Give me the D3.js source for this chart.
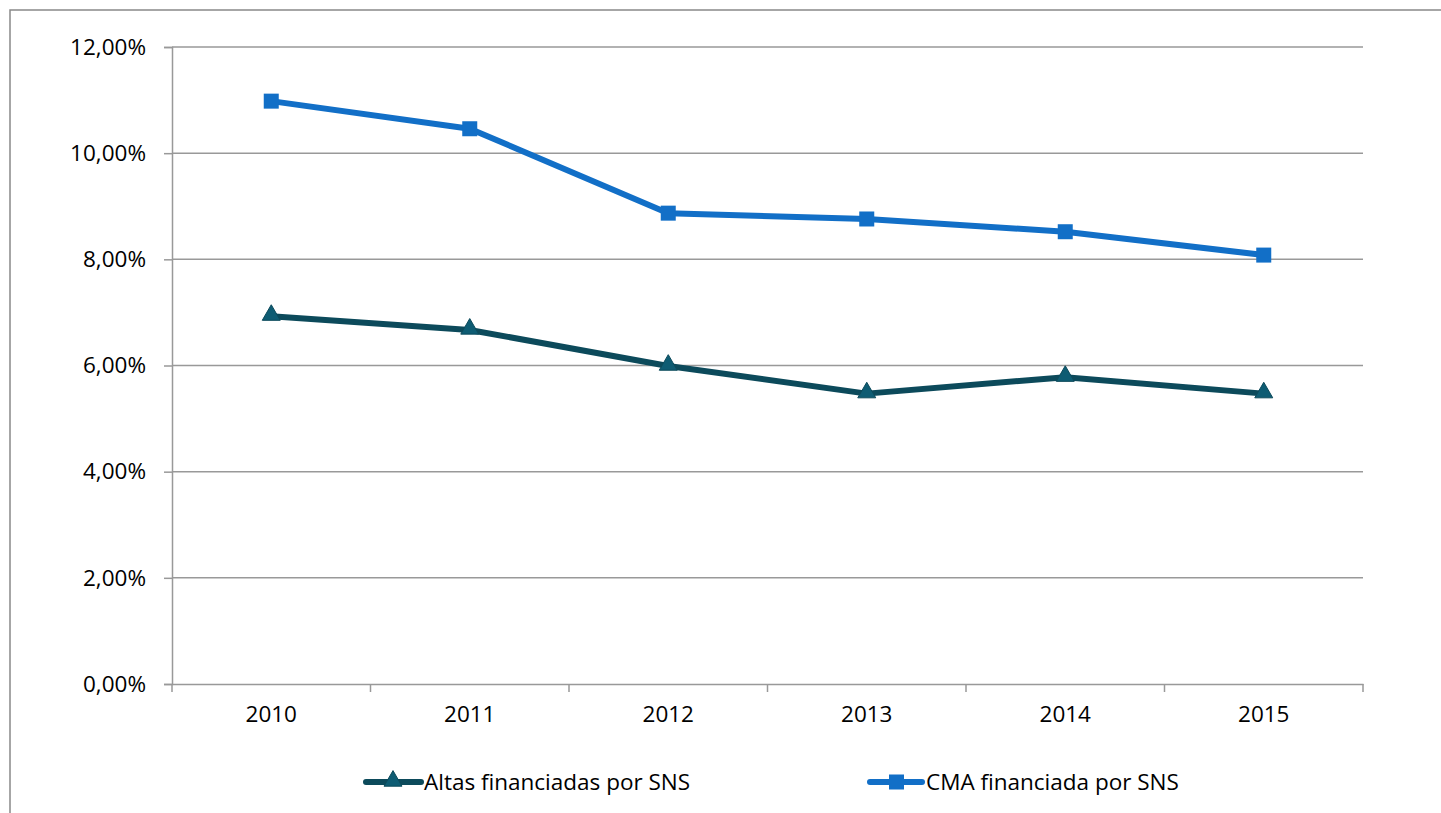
<!DOCTYPE html>
<html><head><meta charset="utf-8">
<script src="https://cdn.jsdelivr.net/npm/d3@7"></script>
<style>body{margin:0;background:#fff}svg{display:block}text{font-family:"Open Sans","Noto Sans",sans-serif;fill:#000}</style>
</head><body>
<svg id="c" width="1441" height="813"></svg>
<script>
const categories = ["2010","2011","2012","2013","2014","2015"];
const altas = [6.93, 6.67, 5.99, 5.47, 5.78, 5.47];
const cma = [10.98, 10.46, 8.87, 8.76, 8.52, 8.08];
const yTicks = [0, 2, 4, 6, 8, 10, 12];
const seriesNames = ["Altas financiadas por SNS", "CMA financiada por SNS"];

const FS = 22.5;
const svg = d3.select("#c");
const L = 172, R = 1363, T = 47, B = 684;
svg.append("rect").attr("x",10).attr("y",10).attr("width",1445).attr("height",820)
  .attr("fill","none").attr("stroke","#898989").attr("stroke-width",1.5);

const x = d3.scaleBand().domain(categories).range([L,R]);
const y = d3.scaleLinear().domain([0,12]).range([B,T]);
const fmt = v => v.toFixed(2).replace(".", ",") + "%";

svg.append("g").selectAll("line").data(yTicks.filter(d=>d>0)).join("line")
  .attr("x1",L).attr("x2",R).attr("y1",d=>y(d)).attr("y2",d=>y(d))
  .attr("stroke","#999").attr("stroke-width",1.5);

const ya = svg.append("g").attr("transform",`translate(${L},0)`)
  .call(d3.axisLeft(y).tickValues(yTicks).tickFormat(fmt).tickSize(8).tickPadding(18));
ya.select(".domain").attr("stroke","#999").attr("stroke-width",1.5);
ya.selectAll(".tick line").attr("stroke","#999").attr("stroke-width",1.5);
ya.selectAll("text").attr("font-size",FS).attr("fill","#000");

const xa = svg.append("g").attr("transform",`translate(0,${B})`)
  .call(d3.axisBottom(x).tickSize(0).tickPadding(22));
xa.select(".domain").attr("stroke","#999").attr("stroke-width",1.5);
xa.selectAll("text").attr("font-size",FS).attr("fill","#000");
const edges = categories.map(c=>x(c)).concat([R]);
svg.append("g").selectAll("line").data(edges).join("line")
  .attr("x1",d=>d).attr("x2",d=>d).attr("y1",B).attr("y2",B+8)
  .attr("stroke","#999").attr("stroke-width",1.5);

const cx = c => x(c) + x.bandwidth()/2;
const line = d3.line().x((d,i)=>cx(categories[i])).y(d=>y(d));
const cAlt = "#0C4A5B", cAltM = "#0E5C73", cCma = "#126FC7";

svg.append("path").datum(altas).attr("d",line).attr("fill","none")
  .attr("stroke",cAlt).attr("stroke-width",6).attr("stroke-linejoin","round");
svg.append("path").datum(cma).attr("d",line).attr("fill","none")
  .attr("stroke",cCma).attr("stroke-width",6).attr("stroke-linejoin","round");

const tri = d3.symbol().type(d3.symbolTriangle).size(140);
svg.append("g").selectAll("path").data(altas).join("path")
  .attr("d",tri).attr("transform",(d,i)=>`translate(${cx(categories[i])},${y(d)-1})`)
  .attr("fill",cAltM).attr("stroke",cAlt).attr("stroke-width",1);
svg.append("g").selectAll("rect").data(cma).join("rect")
  .attr("x",(d,i)=>cx(categories[i])-7.5).attr("y",d=>y(d)-7.5)
  .attr("width",15).attr("height",15).attr("fill",cCma);

const ly = 782;
const lg1 = svg.append("g");
lg1.append("line").attr("x1",366).attr("x2",421).attr("y1",ly).attr("y2",ly)
  .attr("stroke",cAlt).attr("stroke-width",6).attr("stroke-linecap","round");
lg1.append("path").attr("d",tri).attr("transform",`translate(393,${ly-1})`).attr("fill",cAltM).attr("stroke",cAlt);
lg1.append("text").attr("x",424).attr("y",ly).attr("dy","0.35em").attr("font-size",FS).text(seriesNames[0]);
const lg2 = svg.append("g");
lg2.append("line").attr("x1",870).attr("x2",922).attr("y1",ly).attr("y2",ly)
  .attr("stroke",cCma).attr("stroke-width",6).attr("stroke-linecap","round");
lg2.append("rect").attr("x",889).attr("y",ly-7.5).attr("width",15).attr("height",15).attr("fill",cCma);
lg2.append("text").attr("x",926).attr("y",ly).attr("dy","0.35em").attr("font-size",FS).text(seriesNames[1]);
</script>
</body></html>
